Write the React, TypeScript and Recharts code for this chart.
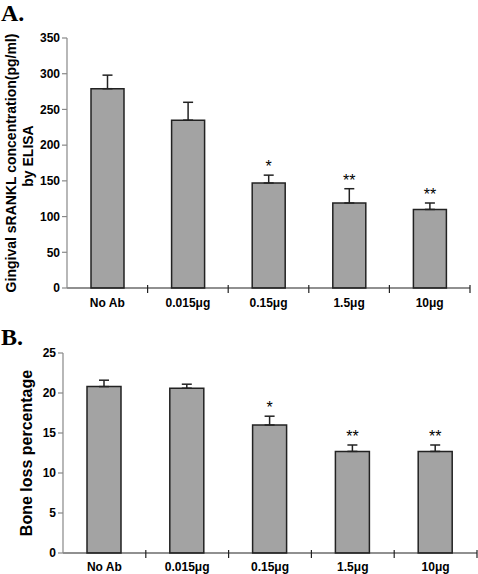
import { BarChart, Bar, XAxis, YAxis, ErrorBar, LabelList } from "recharts";

const doses = ["No Ab", "0.015μg", "0.15μg", "1.5μg", "10μg"];
const srankl = [279, 235, 147, 119, 110];
const sranklErr = [19, 25, 11, 20, 9];
const boneLoss = [20.8, 20.6, 16.0, 12.7, 12.7];
const boneLossErr = [0.8, 0.5, 1.1, 0.8, 0.8];
const stars = ["", "", "*", "**", "**"];
const sranklTicks = [0, 50, 100, 150, 200, 250, 300, 350];
const boneTicks = [0, 5, 10, 15, 20, 25];

const FONT = "'Liberation Sans', Arial, sans-serif";
const W = 478;

interface PanelProps {
  values: number[];
  errs: number[];
  ticks: number[];
  height: number;
  top: number;
  margin: { top: number; right: number; bottom: number; left: number };
  yWidth: number;
  xHeight: number;
  labelGap: number;
  barSize: number;
}

function Panel({ values, errs, ticks, height, top, margin, yWidth, xHeight, labelGap, barSize }: PanelProps) {
  const data = doses.map((d, i) => ({
    dose: d,
    value: values[i],
    err: [0, errs[i]],
    sig: stars[i],
  }));
  const step = (W - margin.left - margin.right - yWidth) / doses.length;

  const renderTick = (props: any) => {
    const { x, y, payload } = props;
    const axisY = y - labelGap;
    return (
      <g>
        <line x1={x + step / 2} x2={x + step / 2} y1={axisY - 3} y2={axisY + 5} stroke="#222" strokeWidth={1.2} />
        <text x={x} y={y} dy="0.71em" textAnchor="middle" fontFamily={FONT} fontWeight="bold" fontSize={12} fill="#000">
          {payload.value}
        </text>
      </g>
    );
  };

  const renderStar = (props: any) => {
    const { x, y, width, height: h, index, value } = props;
    if (!value) return null;
    const errTop = y - (errs[index] * h) / values[index];
    return (
      <text x={x + width / 2} y={errTop - 3} textAnchor="middle" fontFamily={FONT} fontSize={16} fill="#000">
        {value}
      </text>
    );
  };

  return (
    <div style={{ position: "absolute", left: 0, top }}>
      <BarChart width={W} height={height} data={data} margin={margin}>
        <XAxis
          dataKey="dose"
          height={xHeight}
          axisLine={{ stroke: "#222", strokeWidth: 1.2 }}
          tickLine={false}
          tickSize={0}
          tickMargin={labelGap}
          tick={renderTick}
          interval={0}
        />
        <YAxis
          width={yWidth}
          domain={[ticks[0], ticks[ticks.length - 1]]}
          ticks={ticks}
          interval={0}
          axisLine={{ stroke: "#888", strokeWidth: 1.2 }}
          tickLine={{ stroke: "#888", strokeWidth: 1.2 }}
          tickSize={5}
          tickMargin={2}
          tick={{ fontFamily: FONT, fontWeight: "bold", fontSize: 12, fill: "#000" }}
        />
        <Bar dataKey="value" fill="#a3a3a3" stroke="#222" strokeWidth={1.5} barSize={barSize} isAnimationActive={false}>
          <ErrorBar dataKey="err" direction="y" width={5} stroke="#222" strokeWidth={1.5} />
          <LabelList dataKey="sig" content={renderStar} />
        </Bar>
      </BarChart>
    </div>
  );
}

export default function App() {
  return (
    <div style={{ position: "absolute", left: 0, top: 0, width: W, height: 574, background: "#fff" }}>
      <Panel
        values={srankl}
        errs={sranklErr}
        ticks={sranklTicks}
        top={0}
        height={310}
        margin={{ top: 38, right: 8, bottom: 0, left: 0 }}
        yWidth={67}
        xHeight={22}
        labelGap={10}
        barSize={33}
      />
      <Panel
        values={boneLoss}
        errs={boneLossErr}
        ticks={boneTicks}
        top={310}
        height={264}
        margin={{ top: 43, right: 1, bottom: 0, left: 0 }}
        yWidth={63}
        xHeight={21}
        labelGap={9}
        barSize={34}
      />
      <svg width={W} height={574} style={{ position: "absolute", left: 0, top: 0, pointerEvents: "none" }}>
        <text x={1} y={21} fontFamily="'Liberation Serif', 'Times New Roman', serif" fontWeight="bold" fontSize={24}>
          A.
        </text>
        <text x={1} y={345} fontFamily="'Liberation Serif', 'Times New Roman', serif" fontWeight="bold" fontSize={24}>
          B.
        </text>
        <text
          transform="translate(16,163) rotate(-90)"
          textAnchor="middle"
          fontFamily={FONT}
          fontWeight="bold"
          fontSize={14}
        >
          Gingival sRANKL concentration(pg/ml)
        </text>
        <text
          transform="translate(33,156) rotate(-90)"
          textAnchor="middle"
          fontFamily={FONT}
          fontWeight="bold"
          fontSize={14}
        >
          by ELISA
        </text>
        <text
          transform="translate(32,453) rotate(-90)"
          textAnchor="middle"
          fontFamily={FONT}
          fontWeight="bold"
          fontSize={16}
        >
          Bone loss percentage
        </text>
      </svg>
    </div>
  );
}
